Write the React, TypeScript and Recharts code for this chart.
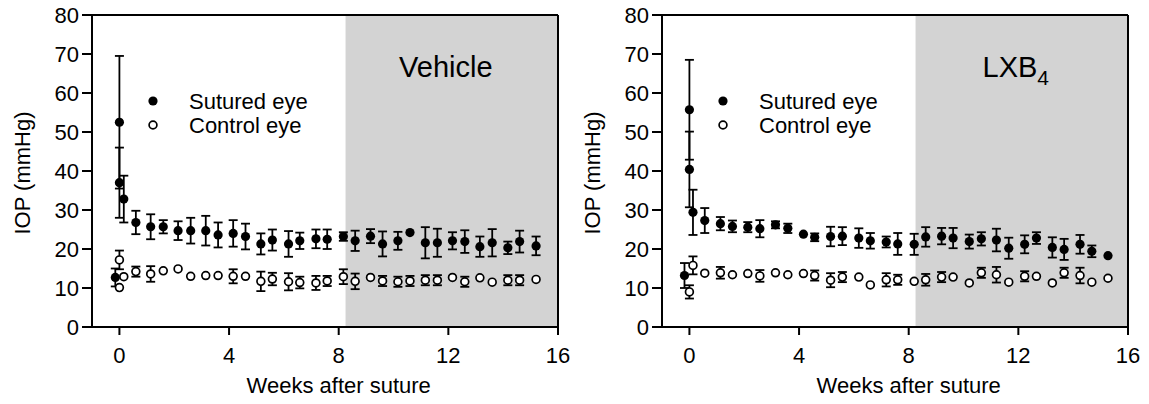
import { ScatterChart, Scatter, XAxis, YAxis, ErrorBar, ReferenceArea, ReferenceLine, Legend, Label } from "recharts";

// axis ticks
const weekTicks = [0, 4, 8, 12, 16];
const iopTicks = [0, 10, 20, 30, 40, 50, 60, 70, 80];

// Vehicle panel, sutured eye (mean ± SEM)
const vehSutWeeks = [-0.15, 0, 0, 0.16, 0.6, 1.14, 1.6, 2.14, 2.6, 3.15, 3.6, 4.15, 4.6, 5.16, 5.58, 6.17, 6.58, 7.17, 7.58, 8.17, 8.6, 9.16, 9.6, 10.16, 10.6, 11.16, 11.6, 12.15, 12.6, 13.15, 13.6, 14.17, 14.6, 15.2];
const vehSutMean = [12.7, 52.5, 37, 32.8, 26.8, 25.7, 25.7, 24.7, 24.7, 24.7, 23.6, 24.0, 23.2, 21.3, 22.3, 21.3, 22.1, 22.6, 22.5, 23.2, 22.1, 23.3, 21.3, 22.1, 24.2, 21.6, 21.6, 22.1, 21.9, 20.6, 21.6, 20.3, 21.9, 20.8];
const vehSutSem = [2.3, 17, 9, 6, 3, 3.2, 1.7, 2.4, 3.3, 3.8, 3.2, 3.4, 3.3, 2.7, 2.7, 3.3, 2.1, 2.4, 2.5, 1.1, 2.6, 1.8, 3.2, 2.3, 0, 4, 3.6, 2.2, 2.9, 2.6, 3.5, 1.6, 2.8, 2.4];

// Vehicle panel, control eye
const vehCtlWeeks = [0, 0, 0.16, 0.6, 1.14, 1.6, 2.14, 2.6, 3.15, 3.6, 4.15, 4.6, 5.16, 5.58, 6.17, 6.58, 7.17, 7.58, 8.17, 8.6, 9.16, 9.6, 10.16, 10.6, 11.16, 11.6, 12.15, 12.6, 13.15, 13.6, 14.17, 14.6, 15.2];
const vehCtlMean = [10.1, 17.2, 12.9, 14.2, 13.6, 14.4, 14.9, 13.0, 13.2, 13.2, 13.0, 13.0, 11.7, 12.3, 11.6, 11.4, 11.3, 11.8, 12.9, 11.7, 12.7, 11.8, 11.6, 11.8, 12.0, 12.0, 12.7, 11.6, 12.6, 11.5, 12.0, 12.0, 12.2];
const vehCtlSem = [0, 2.4, 0, 1.3, 2, 0, 0, 0, 0, 0, 1.8, 0, 2.5, 1.6, 2.2, 1.5, 1.8, 1.3, 1.9, 2, 0, 1.3, 1.3, 1.3, 1.3, 1.3, 0, 1.3, 0, 0, 1.3, 1.3, 0];

// LXB4 panel, sutured eye
const lxbSutWeeks = [-0.18, 0, 0, 0.13, 0.56, 1.13, 1.57, 2.13, 2.57, 3.14, 3.59, 4.16, 4.57, 5.15, 5.58, 6.18, 6.6, 7.18, 7.6, 8.2, 8.62, 9.2, 9.62, 10.21, 10.65, 11.2, 11.65, 12.23, 12.66, 13.24, 13.67, 14.25, 14.68, 15.27];
const lxbSutMean = [13.2, 55.7, 40.4, 29.4, 27.3, 26.5, 25.8, 25.6, 25.2, 26.2, 25.3, 23.8, 23.0, 23.2, 23.3, 22.8, 22.1, 21.8, 21.3, 21.2, 23.1, 23.3, 22.8, 21.9, 22.6, 22.3, 20.2, 21.2, 22.8, 20.4, 19.9, 21.2, 19.4, 18.3];
const lxbSutSem = [3.2, 12.8, 9.7, 5.8, 3.2, 1.7, 1.5, 1.3, 2.2, 0.9, 1.2, 0, 1, 2.5, 2.3, 2.5, 2, 1.4, 2.8, 2.7, 2.5, 2.1, 2.6, 1.8, 1.7, 2.9, 2.7, 2.3, 1.5, 2.6, 2.7, 2.4, 1.5, 0];

// LXB4 panel, control eye
const lxbCtlWeeks = [0, 0.13, 0.56, 1.13, 1.57, 2.13, 2.57, 3.14, 3.59, 4.16, 4.57, 5.15, 5.58, 6.18, 6.6, 7.18, 7.6, 8.2, 8.62, 9.2, 9.62, 10.21, 10.65, 11.2, 11.65, 12.23, 12.66, 13.24, 13.67, 14.25, 14.68, 15.27];
const lxbCtlMean = [9.0, 15.8, 13.8, 13.9, 13.4, 13.7, 13.1, 13.9, 13.4, 13.7, 13.2, 12.0, 12.8, 12.8, 10.8, 12.1, 12.1, 11.7, 12.1, 12.8, 12.8, 11.3, 13.9, 13.4, 11.5, 13.0, 13.0, 11.3, 13.9, 13.2, 11.5, 12.5];
const lxbCtlSem = [1.7, 2.3, 0, 1.5, 0, 0, 1.5, 0, 0, 0, 1.3, 1.8, 1.3, 0, 0, 1.7, 1.3, 0, 1.5, 1.3, 0, 0, 1.3, 2, 0, 1.3, 0, 0, 1.3, 2, 0, 0];

const toPoints = (weeks: number[], mean: number[], sem: number[]) =>
  weeks.map((w, i) => ({ week: w, iop: mean[i], sem: sem[i] }));

const FONT = "'Liberation Sans', Arial, sans-serif";

const FilledDot = (p: any) => <circle cx={p.cx} cy={p.cy} r={4.6} fill="#000" />;
const OpenDot = (p: any) => <circle cx={p.cx} cy={p.cy} r={3.9} fill="#fff" stroke="#000" strokeWidth={1.7} />;

const renderLegend = () => (
  <svg width={220} height={50} style={{ fontFamily: FONT }}>
    <circle cx={22} cy={13} r={4.6} fill="#000" />
    <text x={58} y={13} fontSize={22} dominantBaseline="central" fill="#000">Sutured eye</text>
    <circle cx={22} cy={37} r={3.9} fill="#fff" stroke="#000" strokeWidth={1.7} />
    <text x={58} y={37} fontSize={22} dominantBaseline="central" fill="#000">Control eye</text>
  </svg>
);

interface PanelProps {
  left: number;
  sutured: { week: number; iop: number; sem: number }[];
  control: { week: number; iop: number; sem: number }[];
  title: string;
  sub?: string;
}

const Panel = ({ left, sutured, control, title, sub }: PanelProps) => (
  <div style={{ position: "absolute", left, top: 0 }}>
    <ScatterChart width={574} height={404} margin={{ top: 15, right: 16, bottom: 0, left: 32 }} style={{ fontFamily: FONT }}>
      <ReferenceArea
        x1={8.25}
        x2={16}
        y1={0}
        y2={80}
        fill="#d3d3d3"
        fillOpacity={1}
        stroke="none"
        label={(props: any) => {
          const vb = props.viewBox;
          return (
            <text x={vb.x + vb.width / 2 - 6} y={77} textAnchor="middle" fontSize={29} fill="#000" fontFamily={FONT}>
              {title}
              {sub && <tspan fontSize={21} dy={8}>{sub}</tspan>}
            </text>
          );
        }}
      />
      <ReferenceLine y={80} stroke="#000" strokeWidth={2} />
      <ReferenceLine x={16} stroke="#000" strokeWidth={2} />
      <XAxis
        type="number"
        dataKey="week"
        domain={[-1, 16]}
        ticks={weekTicks}
        allowDataOverflow
        height={77}
        tickSize={8}
        tickMargin={12}
        axisLine={{ stroke: "#000", strokeWidth: 2 }}
        tickLine={{ stroke: "#000", strokeWidth: 2 }}
        tick={{ fill: "#000", fontSize: 22 }}
      >
        <Label
          content={(props: any) => {
            const vb = props.viewBox;
            return (
              <text x={vb.x + (vb.width * 9) / 17} y={393} textAnchor="middle" fontSize={22} fill="#000" fontFamily={FONT}>
                Weeks after suture
              </text>
            );
          }}
        />
      </XAxis>
      <YAxis
        type="number"
        dataKey="iop"
        domain={[0, 80]}
        ticks={iopTicks}
        width={60}
        tickSize={10}
        tickMargin={3}
        axisLine={{ stroke: "#000", strokeWidth: 2 }}
        tickLine={{ stroke: "#000", strokeWidth: 2 }}
        tick={{ fill: "#000", fontSize: 22 }}
      >
        <Label
          content={(props: any) => {
            const vb = props.viewBox;
            const cx = vb.x - 10;
            const cy = vb.y + vb.height / 2 + 2;
            return (
              <text x={cx} y={cy} transform={`rotate(-90, ${cx}, ${cy})`} textAnchor="middle" dominantBaseline="central" fontSize={22} fill="#000" fontFamily={FONT}>
                IOP (mmHg)
              </text>
            );
          }}
        />
      </YAxis>
      <Legend
        layout="horizontal"
        align="center"
        verticalAlign="middle"
        content={renderLegend}
        wrapperStyle={{ left: 131, top: 88, width: 220 }}
      />
      <Scatter name="Control eye" data={control} shape={OpenDot} isAnimationActive={false}>
        <ErrorBar dataKey="sem" direction="y" width={4.5} stroke="#000" strokeWidth={1.8} isAnimationActive={false} />
      </Scatter>
      <Scatter name="Sutured eye" data={sutured} shape={FilledDot} isAnimationActive={false}>
        <ErrorBar dataKey="sem" direction="y" width={4.5} stroke="#000" strokeWidth={1.8} isAnimationActive={false} />
      </Scatter>
    </ScatterChart>
  </div>
);

export default function App() {
  return (
    <div style={{ position: "absolute", left: 0, top: 0, width: 1149, height: 404, background: "#fff" }}>
      <Panel left={0} sutured={toPoints(vehSutWeeks, vehSutMean, vehSutSem)} control={toPoints(vehCtlWeeks, vehCtlMean, vehCtlSem)} title="Vehicle" />
      <Panel left={570} sutured={toPoints(lxbSutWeeks, lxbSutMean, lxbSutSem)} control={toPoints(lxbCtlWeeks, lxbCtlMean, lxbCtlSem)} title="LXB" sub="4" />
    </div>
  );
}
